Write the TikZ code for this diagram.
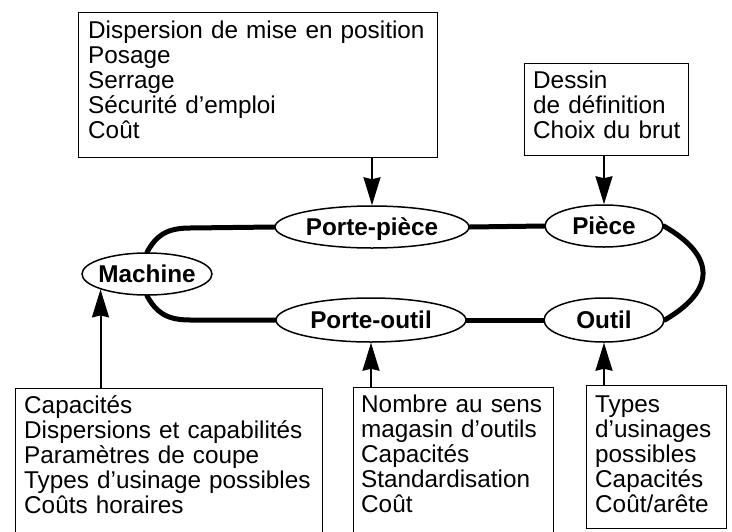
\documentclass[tikz,border=0pt]{standalone}
\usepackage{fontspec}
\setmainfont{Liberation Sans}
\usetikzlibrary{arrows.meta,shapes.geometric}
\pgfdeclarelayer{background}
\pgfsetlayers{background,main}
\begin{document}
\begin{tikzpicture}[x=1pt,y=-1pt,
  boxst/.style={draw=black,line width=1.4pt,fill=white,rectangle,inner sep=0pt,anchor=north west},
  txtst/.style={anchor=base west,inner sep=0pt,align=left,font=\fontsize{24.3}{25}\selectfont},
  ellst/.style={draw=black,line width=1.5pt,fill=white,ellipse,inner sep=0pt,
     font=\bfseries\fontsize{24.3}{25}\selectfont,text height=17.4pt,text depth=0pt},
  link/.style={line width=5pt,line cap=round},
  arr/.style={line width=2pt,-{Stealth[length=28pt,width=17pt,inset=2pt]}}]
\useasboundingbox (0,0) rectangle (732,531);
\begin{pgfonlayer}{background}
\fill[white] (0,0) rectangle (732,531);
\end{pgfonlayer}
% boxes
\node[boxst,minimum width=359pt,minimum height=145pt] (tb) at (78,12) {};
\node[boxst,minimum width=164pt,minimum height=92pt] (db) at (524,63) {};
\node[boxst,minimum width=307pt,minimum height=160pt] (b1) at (15,388) {};
\node[boxst,minimum width=200pt,minimum height=160pt] (b2) at (353,387) {};
\node[boxst,minimum width=140pt,minimum height=143pt] (b3) at (586,385) {};
% box texts
\node[txtst,text width=345pt] (tbt) at (88,38) {Dispersion de mise en position\\Posage\\Serrage\\Sécurité d’emploi\\Coût};
\node[txtst,text width=155pt] (dbt) at (533,88) {Dessin\\de définition\\Choix du brut};
\node[txtst,text width=295pt] (b1t) at (24,413) {Capacités\\Dispersions et capabilités\\Paramètres de coupe\\Types d’usinage possibles\\Coûts horaires};
\node[txtst,text width=190pt] (b2t) at (361,412) {Nombre au sens\\magasin d’outils\\Capacités\\Standardisation\\Coût};
\node[txtst,text width=135pt] (b3t) at (595,412) {Types\\d’usinages\\possibles\\Capacités\\Coût/arête};
% ellipses
\node[ellst,minimum width=194pt,minimum height=42pt] (pp) at (372,227) {\makebox[0pt]{Porte-pièce}};
\node[ellst,minimum width=118pt,minimum height=42pt] (pc) at (604,226) {\makebox[0pt]{Pièce}};
\node[ellst,minimum width=130pt,minimum height=42pt] (m) at (147,274) {\makebox[0pt]{Machine}};
\node[ellst,minimum width=190pt,minimum height=44pt] (po) at (371,320) {\makebox[0pt]{Porte-outil}};
\node[ellst,minimum width=120pt,minimum height=44pt] (ou) at (604,320) {\makebox[0pt]{Outil}};
% thick links, behind the ellipses
\begin{pgfonlayer}{background}
\draw[link] (pp.east) -- (pc.west);
\draw[link] (po.east) -- (ou.west);
\draw[link] (pc.east) .. controls (716,256) and (716,290) .. (ou.east);
\draw[link] (m.north) .. controls (156,236) and (166,228) .. (190,228) -- (pp.west);
\draw[link] (m.south) .. controls (156,312) and (166,320) .. (190,320) -- (po.west);
\end{pgfonlayer}
% arrows
\draw[arr] (tb.south -| pp.north) -- (pp.north);
\draw[arr] (db.south -| pc.north) -- (pc.north);
\draw[arr] (b1.north -| m.south west) -- (m.south west);
\draw[arr] (b2.north -| po.south) -- (po.south);
\draw[arr] (b3.north -| ou.south) -- (ou.south);
\end{tikzpicture}
\end{document}
